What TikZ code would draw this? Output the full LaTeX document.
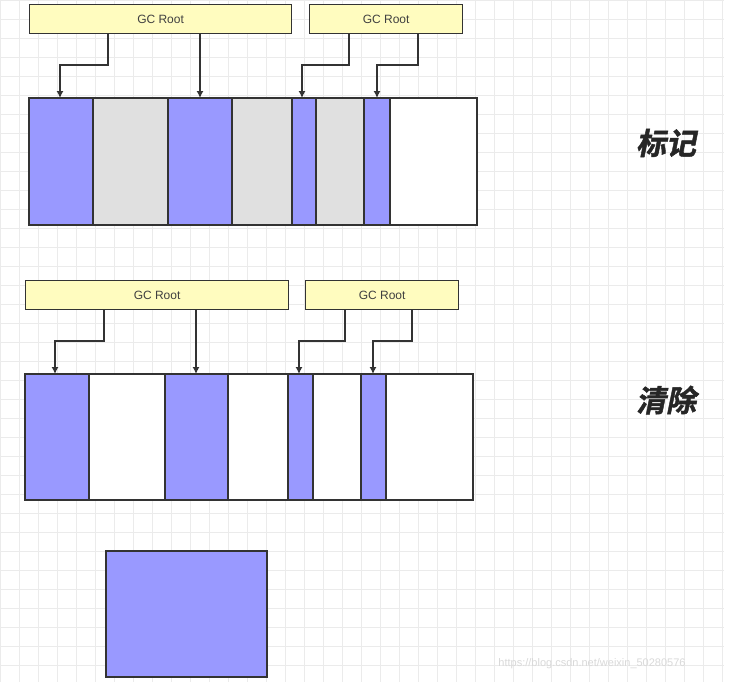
\documentclass[tikz,border=0pt]{standalone}
\usepackage{fontspec}
\setmainfont{Liberation Sans}
\newfontfamily\cjk[FakeSlant=0.2,FakeBold=1.5]{Noto Sans CJK SC Bold}
\tikzset{
  root/.style={draw=black!80,fill=yellow!25!white,line width=1.2pt},
  live/.style={draw=black!80,fill=blue!40!white,line width=1.2pt},
  dead/.style={draw=black!80,fill=black!12,line width=1.2pt},
  free/.style={draw=black!80,fill=white,line width=1.2pt},
  ptr/.style={draw=black!80,line width=1.2pt,-{Latex[length=7pt,width=7pt]}},
  lbl/.style={font=\fontsize{12}{14}\selectfont,text=black!75}
}
\usetikzlibrary{arrows.meta}
\begin{document}
\begin{tikzpicture}[x=1pt,y=-1pt]
\useasboundingbox (0,0) rectangle (744,691);
\fill[white] (0,0) rectangle (744,691);
\foreach \i in {0,...,38} \draw[black!8,line width=0.6pt] (\i*19,0) -- (\i*19,682);
\foreach \j in {0,...,35} \draw[black!8,line width=0.6pt] (0,\j*19) -- (724,\j*19);
% top
\node[root,minimum width=262pt,minimum height=29pt,anchor=north west,lbl] (r1) at (29,4) {GC Root};
\node[root,minimum width=153pt,minimum height=29pt,anchor=north west,lbl] (r2) at (309,4) {GC Root};
\foreach \a/\b/\s [count=\k] in {29/93/live,93/168/dead,168/232/live,232/292/dead,292/316/live,316/364/dead,364/390/live,390/477/free}
  \path[\s] (\a,98) rectangle (\b,225) coordinate (t\k);
\coordinate (ta) at (60,98); \coordinate (tb) at (200,98); \coordinate (tc) at (302,98); \coordinate (td) at (377,98);
\draw[ptr] (r1.south -| 108,0) |- (60,65) -- (ta);
\draw[ptr] (r1.south -| 200,0) -- (tb);
\draw[ptr] (r2.south -| 349,0) |- (302,65) -- (tc);
\draw[ptr] (r2.south -| 418,0) |- (377,65) -- (td);
\node[font=\cjk\fontsize{30}{34}\selectfont,text=black!85] (m1) at (666,143) {标记};
% bottom
\node[root,minimum width=263pt,minimum height=29pt,anchor=north west,lbl] (r3) at (25,280) {GC Root};
\node[root,minimum width=153pt,minimum height=29pt,anchor=north west,lbl] (r4) at (305,280) {GC Root};
\foreach \a/\b/\s in {25/89/live,89/165/free,165/228/live,228/288/free,288/313/live,313/361/free,361/386/live,386/473/free}
  \path[\s] (\a,374) rectangle (\b,500);
\coordinate (ba) at (55,374); \coordinate (bb) at (196,374); \coordinate (bc) at (299,374); \coordinate (bd) at (373,374);
\draw[ptr] (r3.south -| 104,0) |- (55,341) -- (ba);
\draw[ptr] (r3.south -| 196,0) -- (bb);
\draw[ptr] (r4.south -| 345,0) |- (299,341) -- (bc);
\draw[ptr] (r4.south -| 412,0) |- (373,341) -- (bd);
\node[font=\cjk\fontsize{30}{34}\selectfont,text=black!85] (m2) at (666,400) {清除};
\path[live] (106,551) rectangle (267,677);
\node[font=\fontsize{11}{13}\selectfont,text=black!15] (wm) at (592,664) {https://blog.csdn.net/weixin\_50280576};
\end{tikzpicture}
\end{document}
